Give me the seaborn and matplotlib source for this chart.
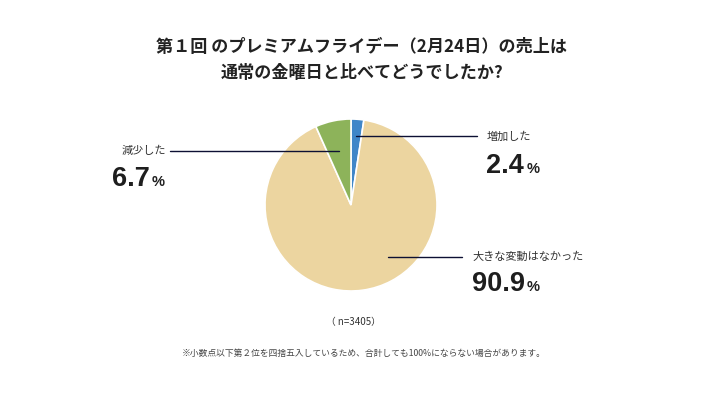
import matplotlib
matplotlib.use("Agg")
import matplotlib.pyplot as plt
from matplotlib import font_manager
import seaborn as sns

sns.set_theme(style="white")
plt.rcParams['font.family'] = ['Noto Sans CJK JP', 'DejaVu Sans']

categories = ["増加した", "大きな変動はなかった", "減少した"]
values = [2.4, 90.9, 6.7]
colors = ["#3f86c8", "#ecd5a0", "#8db35a"]
title_lines = ["第１回 のプレミアムフライデー（2月24日）の売上は", "通常の金曜日と比べてどうでしたか?"]
sample_note = "（ n=3405）"
footnote = "※小数点以下第２位を四捨五入しているため、合計しても100%にならない場合があります。"

W, H = 728, 396
fig = plt.figure(figsize=(W / 100, H / 100), dpi=100)
fig.patch.set_facecolor("white")

# pie axes: center (351,205) px from top-left, radius 86 px
cx, cy, r = 351, 205, 86
ax = fig.add_axes([(cx - r) / W, 1 - (cy + r) / H, 2 * r / W, 2 * r / H])
ax.pie(values, colors=colors, startangle=90, counterclock=False,
       wedgeprops=dict(edgecolor="white", linewidth=1.2))
ax.set_xlim(-1, 1)
ax.set_ylim(-1, 1)
ax.set_aspect("equal")
ax.axis("off")

# overlay axes in pixel coords
ov = fig.add_axes([0, 0, 1, 1], facecolor="none")
ov.set_xlim(0, W)
ov.set_ylim(H, 0)
ov.axis("off")

ov.text(362, 47, title_lines[0], ha="center", va="center", fontsize=12.3, fontweight="bold", color="#222222")
ov.text(362, 73, title_lines[1], ha="center", va="center", fontsize=12.3, fontweight="bold", color="#222222")

line_color = "#0d1033"
num_font = font_manager.FontProperties(family=["Liberation Sans", "Arial", "DejaVu Sans"], weight="bold")
num_kw = dict(ha="left", va="baseline", color="#1e1e1e")

def num_text(x, y, s, size):
    fp = num_font.copy()
    fp.set_size(size)
    ov.text(x, y, s, fontproperties=fp, **num_kw)

# increase
ov.plot([356, 477], [136, 136], color=line_color, lw=1)
ov.text(487, 137, categories[0], ha="left", va="center", fontsize=8, color="#333333")
num_text(486, 173, f"{values[0]:.1f}", 19.5)
num_text(527, 173, "%", 10.5)

# decrease
ov.plot([170, 339], [151, 151], color=line_color, lw=1)
ov.text(122, 151, categories[2], ha="left", va="center", fontsize=8, color="#333333")
num_text(112, 186, f"{values[2]:.1f}", 19.5)
num_text(152, 186, "%", 10.5)

# no change
ov.plot([388, 462], [257, 257], color=line_color, lw=1)
ov.text(472, 257, categories[1], ha="left", va="center", fontsize=8, color="#333333")
num_text(472, 291, f"{values[1]:.1f}", 19.5)
num_text(527, 291, "%", 10.5)

ov.text(353, 322, sample_note, ha="center", va="center", fontsize=7, color="#333333")
ov.text(364, 353, footnote, ha="center", va="center", fontsize=6.3, color="#444444")

fig.savefig("out.png", dpi=100, facecolor="white")
